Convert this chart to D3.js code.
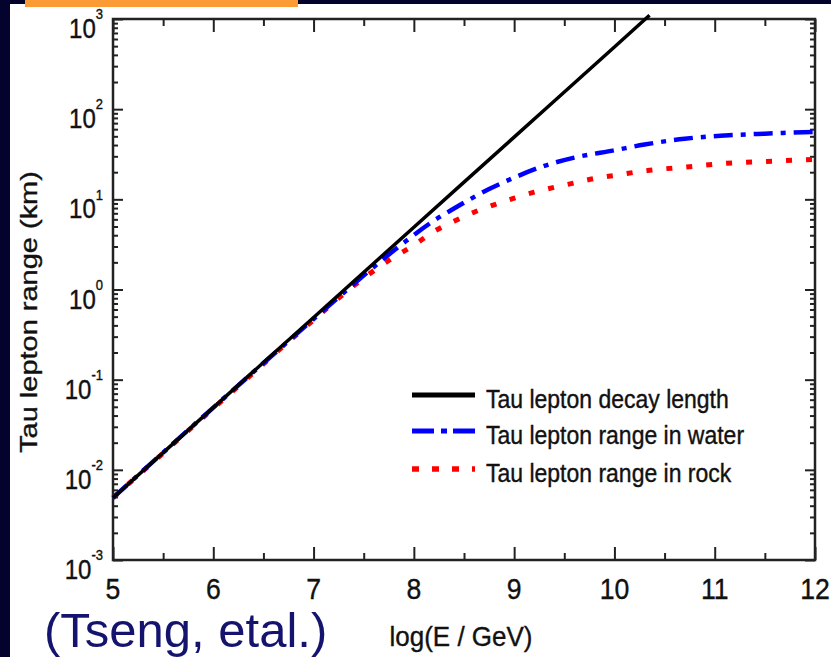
<!DOCTYPE html>
<html>
<head>
<meta charset="utf-8">
<script src="https://cdn.jsdelivr.net/npm/d3@7"></script>
<style>
  body { margin: 0; background: #fff; }
  svg { display: block; }
</style>
</head>
<body>
<script>
const canvWidth = 831, canvHeight = 657;
const plot = {left: 113, right: 815, top: 19, bottom: 560};

// values: x = log10(E / GeV), y = range in km
const decayE = [5, 6, 7, 8, 9, 10, 10.35];
const decayLen = [0.0049, 0.049, 0.49, 4.9, 49, 490, 1100];

const waterE = [5, 6, 7, 7.4, 7.7, 7.9, 8.2, 8.4, 8.75, 9.0, 9.3, 9.6, 10, 10.3, 10.7, 11.1, 11.5, 12];
const waterRange = [0.0049, 0.049, 0.47, 1.15, 2.2, 3.3, 5.8, 7.9, 13, 17.4, 23.5, 29, 35, 40.5, 47, 51, 53.5, 56];

const rockE = [5, 6, 7, 7.4, 7.75, 8.0, 8.2, 8.4, 8.6, 8.8, 9.0, 9.2, 9.4, 9.6, 9.8, 10, 10.35, 10.75, 11.1, 11.5, 12];
const rockRange = [0.0049, 0.048, 0.46, 1.1, 2.1, 3.1, 4.4, 5.7, 7.2, 8.7, 10.3, 12, 13.6, 15.2, 17, 18.4, 21, 23, 25, 26.3, 27.8];

const xTicks = [5, 6, 7, 8, 9, 10, 11, 12];
const xMinorTicks = [5.5, 6.5, 7.5, 8.5, 9.5, 10.5, 11.5];
const yExponents = [-3, -2, -1, 0, 1, 2, 3];
const seriesNames = ["Tau lepton decay length", "Tau lepton range in water", "Tau lepton range in rock"];

const svg = d3.select("body").append("svg")
    .attr("width", canvWidth)
    .attr("height", canvHeight)
    .style("font-family", "'Liberation Sans', Arial, sans-serif");

// slide background bits
svg.append("rect").attr("width", canvWidth).attr("height", canvHeight).attr("fill", "#fff");
svg.append("rect").attr("width", canvWidth).attr("height", 4).attr("fill", "#02022c");
svg.append("rect").attr("width", 10).attr("height", canvHeight).attr("fill", "#03032e");
svg.append("rect").attr("x", 25).attr("width", 273).attr("height", 7).attr("fill", "#fb9b33");

const x = d3.scaleLinear().domain([5, 12]).range([plot.left, plot.right]);
const y = d3.scaleLog().domain([1e-3, 1e3]).range([plot.bottom, plot.top]);

const yMinor = [];
for (let e = -3; e < 3; e++) for (let k = 2; k <= 9; k++) yMinor.push(k * Math.pow(10, e));
const yMajor = yExponents.map(e => Math.pow(10, e));

function styleTicks(sel) {
  sel.select(".domain").remove();
  sel.selectAll("line").attr("stroke", "#222").attr("stroke-width", 2);
}

// inward ticks on all four sides
svg.append("g").attr("transform", `translate(0,${plot.bottom})`)
    .call(d3.axisTop(x).tickValues(xTicks).tickSize(13).tickFormat("")).call(styleTicks);
svg.append("g").attr("transform", `translate(0,${plot.bottom})`)
    .call(d3.axisTop(x).tickValues(xMinorTicks).tickSize(7).tickFormat("")).call(styleTicks);
svg.append("g").attr("transform", `translate(0,${plot.top})`)
    .call(d3.axisBottom(x).tickValues(xTicks).tickSize(13).tickFormat("")).call(styleTicks);
svg.append("g").attr("transform", `translate(0,${plot.top})`)
    .call(d3.axisBottom(x).tickValues(xMinorTicks).tickSize(7).tickFormat("")).call(styleTicks);

svg.append("g").attr("transform", `translate(${plot.left},0)`)
    .call(d3.axisRight(y).tickValues(yMajor).tickSize(10).tickFormat("")).call(styleTicks);
svg.append("g").attr("transform", `translate(${plot.left},0)`)
    .call(d3.axisRight(y).tickValues(yMinor).tickSize(5).tickFormat("")).call(styleTicks);
svg.append("g").attr("transform", `translate(${plot.right},0)`)
    .call(d3.axisLeft(y).tickValues(yMajor).tickSize(10).tickFormat("")).call(styleTicks);
svg.append("g").attr("transform", `translate(${plot.right},0)`)
    .call(d3.axisLeft(y).tickValues(yMinor).tickSize(5).tickFormat("")).call(styleTicks);

// frame
svg.append("rect")
    .attr("x", plot.left).attr("y", plot.top)
    .attr("width", plot.right - plot.left).attr("height", plot.bottom - plot.top)
    .attr("fill", "none").attr("stroke", "#222").attr("stroke-width", 2.5);

// text looks a little heavier in the picture
function ink(sel) {
  sel.attr("fill", "#111").attr("stroke", "#111").attr("stroke-width", 0.35);
}

// tick labels
svg.append("g").selectAll("text")
    .data(xTicks)
    .enter().append("text")
    .attr("transform", d => `translate(${x(d)},599) scale(0.95,1.03)`)
    .attr("text-anchor", "middle")
    .attr("font-size", "28px")
    .call(ink)
    .text(d => d);

const yLab = svg.append("g").selectAll("text")
    .data(yExponents)
    .enter().append("text")
    .attr("transform", d => `translate(103,${y(Math.pow(10, d)) + 19}) scale(1,1.17)`)
    .attr("text-anchor", "end")
    .call(ink);
yLab.append("tspan").attr("font-size", "24px").text("10");
yLab.append("tspan").attr("font-size", "13px").attr("dy", -16).text(d => d);

// axis titles
svg.append("text")
    .attr("transform", "translate(37,312) rotate(-90) scale(1.26,1)")
    .attr("text-anchor", "middle")
    .attr("font-size", "23px")
    .call(ink)
    .text("Tau lepton range (km)");

svg.append("text")
    .attr("transform", "translate(461,646) scale(1,1.05)")
    .attr("text-anchor", "middle")
    .attr("font-size", "26px")
    .call(ink)
    .text("log(E / GeV)");

svg.append("text")
    .attr("x", 44).attr("y", 647)
    .attr("font-size", "49px")
    .attr("fill", "#14146e")
    .text("(Tseng, etal.)");

// curves
const series = [
  {e: decayE, v: decayLen, color: "#000", width: 3.5, dash: null, legendWidth: 5, legendDash: null},
  {e: waterE, v: waterRange, color: "#0000ff", width: 4.5, dash: "19,8,5,8", legendWidth: 5, legendDash: "22,7,6,6"},
  {e: rockE, v: rockRange, color: "#ff0000", width: 5, dash: "6,14", legendWidth: 5.5, legendDash: "7,13"}
];

const line = d3.line().x(d => x(d[0])).y(d => y(d[1])).curve(d3.curveMonotoneX);

// rock first, water over it, decay on top
[2, 1, 0].forEach(i => {
  const s = series[i];
  svg.append("path")
      .datum(s.e.map((e, j) => [e, s.v[j]]))
      .attr("d", line)
      .attr("fill", "none")
      .attr("stroke", s.color)
      .attr("stroke-width", s.width)
      .attr("stroke-dasharray", s.dash);
});

// legend
const legendY = [395, 431, 469];
const legend = svg.append("g").selectAll("g")
    .data(series)
    .enter().append("g")
    .attr("transform", (d, i) => `translate(0,${legendY[i]})`);

legend.append("line")
    .attr("x1", 412).attr("x2", 475)
    .attr("stroke", d => d.color)
    .attr("stroke-width", d => d.legendWidth)
    .attr("stroke-dasharray", d => d.legendDash);

legend.append("text")
    .attr("transform", "translate(486,13) scale(1,1.1)")
    .attr("font-size", "23px")
    .call(ink)
    .text((d, i) => seriesNames[i]);
</script>
</body>
</html>
